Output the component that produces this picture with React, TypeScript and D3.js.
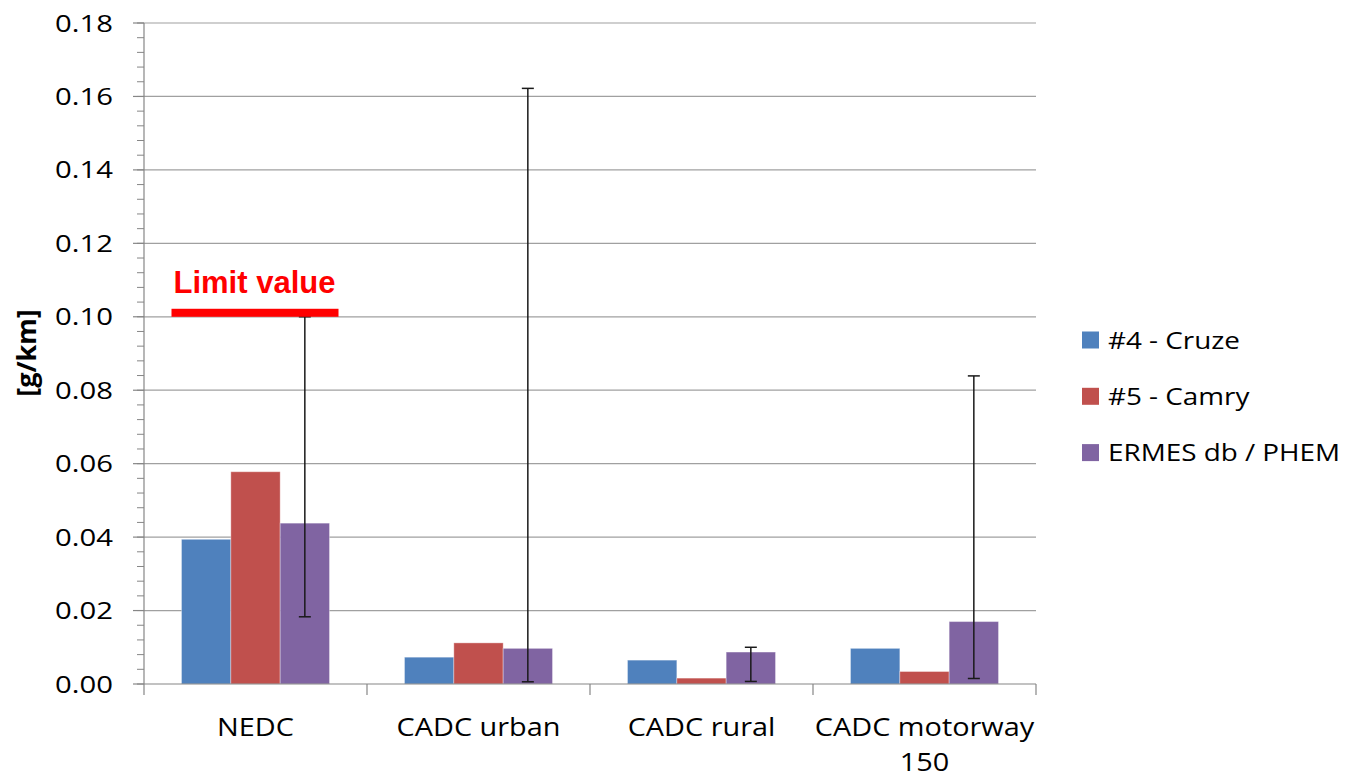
import React from 'react';
import * as d3 from 'd3';

// categories (x axis) – each entry may wrap onto two lines
const categories = ['NEDC', 'CADC urban', 'CADC rural', 'CADC motorway\n150'];

// series values [g/km]
const seriesNames = ['#4 - Cruze', '#5 - Camry', 'ERMES db / PHEM'];
const cruze = [0.0394, 0.0073, 0.0065, 0.0097];
const camry = [0.0578, 0.0112, 0.0016, 0.0034];
const ermes = [0.0438, 0.0097, 0.0087, 0.0170];
// error range for ERMES db / PHEM
const ermesLow = [0.0183, 0.0006, 0.0007, 0.0015];
const ermesHigh = [0.1000, 0.1622, 0.0100, 0.0839];

const yTicks = [0, 0.02, 0.04, 0.06, 0.08, 0.1, 0.12, 0.14, 0.16, 0.18];
const limitValue = 0.1;
const colors = ['#4F81BD', '#C0504D', '#8064A2'];

const W = 1352;
const H = 779;
const plot = { left: 144, right: 1036, top: 23, bottom: 684 };
const FONT = '"Open Sans", "Liberation Sans", sans-serif';

// 横向拉伸的文字（原图字体较宽）
const Txt: React.FC<{
  x: number;
  y: number;
  sx: number;
  size: number;
  anchor?: 'start' | 'middle' | 'end';
  children: React.ReactNode;
}> = ({ x, y, sx, size, anchor = 'start', children }) => (
  <text
    transform={`translate(${x},${y}) scale(${sx},1)`}
    textAnchor={anchor}
    fontSize={size}
    fill="#000"
  >
    {children}
  </text>
);

export default function App() {
  const values = [cruze, camry, ermes];

  const x = d3.scaleBand<string>().domain(categories).range([plot.left, plot.right]).padding(0);
  const xSub = d3
    .scaleBand<number>()
    .domain([0, 1, 2])
    .range([0, x.bandwidth()])
    .paddingInner(0)
    .paddingOuter(0.76);
  const y = d3.scaleLinear().domain([0, 0.18]).range([plot.bottom, plot.top]);

  // minor ticks every 0.004
  const minorTicks = d3.range(0, 181, 4).map(v => v / 1000);

  const limitX0 = (x('NEDC') ?? 0) + (xSub(0) ?? 0) - 10;
  const limitX1 = (x('NEDC') ?? 0) + (xSub(2) ?? 0) + xSub.bandwidth() + 9;

  return (
    <svg
      width={W}
      height={H}
      style={{ position: 'absolute', left: 0, top: 0, background: '#fff', fontFamily: FONT }}
    >
      {/* 网格线 */}
      {yTicks.filter(t => t > 0).map(t => (
        <line key={`g-${t}`} x1={plot.left} x2={plot.right} y1={y(t)} y2={y(t)} stroke="#a0a0a0" strokeWidth={1.2} />
      ))}

      {/* 纵轴 */}
      <line x1={plot.left} x2={plot.left} y1={plot.top} y2={plot.bottom} stroke="#868686" strokeWidth={1.2} />
      {minorTicks.map(t => (
        <line key={`mt-${t}`} x1={plot.left - 7} x2={plot.left} y1={y(t)} y2={y(t)} stroke="#868686" strokeWidth={1} />
      ))}
      {yTicks.map(t => (
        <g key={`yt-${t}`}>
          <line x1={plot.left - 11} x2={plot.left} y1={y(t)} y2={y(t)} stroke="#868686" strokeWidth={1.2} />
          <Txt x={113} y={y(t) + 8.5} sx={1.22} size={24} anchor="end">
            {t.toFixed(2)}
          </Txt>
        </g>
      ))}
      <text
        transform={`translate(36,353) rotate(-90)`}
        textAnchor="middle"
        fontSize={27}
        fontWeight="bold"
        fill="#000"
      >
        [g/km]
      </text>

      {/* 柱子 */}
      {categories.map((c, i) => (
        <g key={`bars-${c}`} transform={`translate(${x(c)},0)`}>
          {values.map((s, j) => (
            <rect
              key={j}
              x={xSub(j)}
              y={y(s[i])}
              width={xSub.bandwidth()}
              height={y(0) - y(s[i])}
              fill={colors[j]}
              stroke="rgba(255,255,255,0.35)"
              strokeWidth={1}
            />
          ))}
        </g>
      ))}

      {/* 横轴 */}
      <line x1={plot.left} x2={plot.right} y1={plot.bottom} y2={plot.bottom} stroke="#868686" strokeWidth={1.2} />
      {[...categories.map(c => x(c) ?? 0), plot.right].map((px, i) => (
        <line key={`xt-${i}`} x1={px} x2={px} y1={plot.bottom} y2={plot.bottom + 11} stroke="#868686" strokeWidth={1.2} />
      ))}
      {categories.map(c =>
        c.split('\n').map((line, k) => (
          <Txt
            key={`xl-${c}-${k}`}
            x={(x(c) ?? 0) + x.bandwidth() / 2}
            y={736 + k * 35}
            sx={1.11}
            size={26}
            anchor="middle"
          >
            {line}
          </Txt>
        ))
      )}

      {/* 误差线 */}
      {categories.map((c, i) => {
        const cx = (x(c) ?? 0) + (xSub(2) ?? 0) + xSub.bandwidth() / 2;
        return (
          <g key={`err-${c}`} stroke="#1a1a1a" strokeWidth={1.5}>
            <line x1={cx} x2={cx} y1={y(ermesLow[i])} y2={y(ermesHigh[i])} />
            <line x1={cx - 6} x2={cx + 6} y1={y(ermesLow[i])} y2={y(ermesLow[i])} />
            <line x1={cx - 6} x2={cx + 6} y1={y(ermesHigh[i])} y2={y(ermesHigh[i])} />
          </g>
        );
      })}

      {/* 限值标注 */}
      <rect x={limitX0} y={y(limitValue) - 8} width={limitX1 - limitX0} height={8} fill="#FF0000" />
      <text
        x={limitX0 + 2}
        y={y(limitValue) - 24}
        fontFamily='"Liberation Sans", Arial, sans-serif'
        fontWeight="bold"
        fontSize={31}
        fill="#FF0000"
      >
        Limit value
      </text>

      {/* 图例 */}
      {seriesNames.map((n, j) => (
        <g key={`lg-${n}`} transform={`translate(1082,${340 + j * 56.3})`}>
          <rect x={0} y={-8.5} width={17} height={17} fill={colors[j]} />
          <Txt x={26} y={8.5} sx={1.16} size={24}>
            {n}
          </Txt>
        </g>
      ))}
    </svg>
  );
}
